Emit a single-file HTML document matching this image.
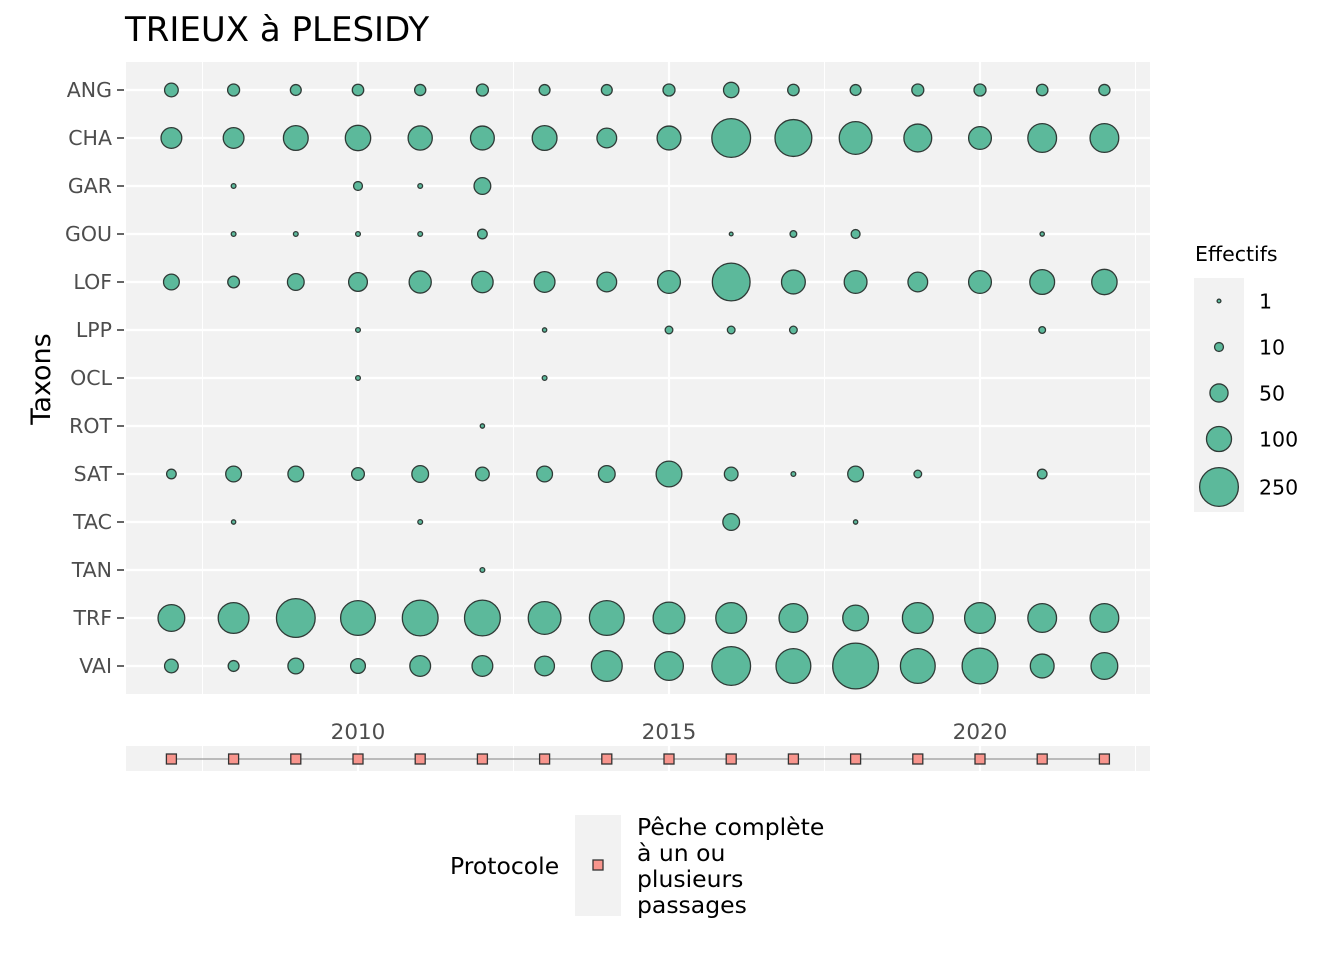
<!DOCTYPE html>
<html><head><meta charset="utf-8"><style>
body{margin:0;background:#fff;font-family:"Liberation Sans","DejaVu Sans",sans-serif}
svg text{font-family:"DejaVu Sans","Liberation Sans",sans-serif}
</style></head><body>
<svg id="c" width="1344" height="960" xmlns="http://www.w3.org/2000/svg">
<text x="125" y="41" font-size="34" fill="#000">TRIEUX à PLESIDY</text>
<text transform="translate(50,379) rotate(-90)" text-anchor="middle" font-size="27" fill="#000">Taxons</text>
<rect x="126" y="62" width="1024" height="632" fill="#f2f2f2"/>
<rect x="126" y="746" width="1024" height="25" fill="#f2f2f2"/>
<g id="grid"></g><g id="marks"></g><g id="axes"></g>
<text x="1195" y="261" font-size="20.5" fill="#000">Effectifs</text>
<rect x="1194" y="278" width="50" height="234" fill="#f2f2f2"/>
<g id="leg"></g>
<text x="450" y="874" font-size="23.5" fill="#000">Protocole</text>
<rect x="575" y="815" width="46" height="101" fill="#f2f2f2"/>
<rect x="593" y="860" width="10" height="10" fill="#f8958d" stroke="#333" stroke-width="1.3"/>
<g font-size="23.5" fill="#000">
<text x="637" y="835">Pêche complète</text><text x="637" y="861">à un ou</text><text x="637" y="887">plusieurs</text><text x="637" y="913">passages</text></g>
</svg>
<script>
const years=[2007,2008,2009,2010,2011,2012,2013,2014,2015,2016,2017,2018,2019,2020,2021,2022];
const taxa=["ANG","CHA","GAR","GOU","LOF","LPP","OCL","ROT","SAT","TAC","TAN","TRF","VAI"];
const ANG=[27,20,16,18,17,20,16,16,20,35,18,16,20,20,18,17];
const CHA=[67,67,98,103,93,90,98,60,90,250,225,176,125,82,134,134];
const GAR=[null,2,null,10,2,42,null,null,null,null,null,null,null,null,null,null];
const GOU=[null,2,2,2,2,12,null,null,null,1,5,10,null,null,1.5,null];
const LOF=[37,19,42,54,77,72,67,60,82,237,90,82,60,82,98,103];
const LPP=[null,null,null,2,null,null,1.5,null,7,7,7,null,null,null,5,null];
const OCL=[null,null,null,2,null,null,2,null,null,null,null,null,null,null,null,null];
const ROT=[null,null,null,null,null,1.5,null,null,null,null,null,null,null,null,null,null];
const SAT=[12,37,37,23,42,27,37,42,106,27,2,37,7,null,12,null];
const TAC=[null,1.5,null,null,2,null,null,null,null,42,null,1.5,null,null,null,null];
const TAN=[null,null,null,null,null,2,null,null,null,null,null,null,null,null,null,null];
const TRF=[115,155,250,200,212,212,176,200,165,155,134,106,155,155,134,134];
const VAI=[27,16,37,32,67,67,60,155,134,250,200,353,200,212,90,115];
const seriesByTaxon=[ANG,CHA,GAR,GOU,LOF,LPP,OCL,ROT,SAT,TAC,TAN,TRF,VAI];
const legendValues=[1,10,50,100,250];
const xTicks=[2010,2015,2020];
const minorX=[2007.5,2012.5,2017.5,2022.5];

const NS="http://www.w3.org/2000/svg";
const x=v=>171.4+(v-2007)*62.2;
const y=i=>90+i*48;
const r=v=>1.32+1.18*Math.sqrt(v);
function mk(tag,attrs,parent){const e=document.createElementNS(NS,tag);for(const k in attrs)e.setAttribute(k,attrs[k]);document.getElementById(parent).appendChild(e);return e;}

minorX.forEach(v=>{
 let l=mk('line',{x1:x(v),x2:x(v),y1:62,y2:694,stroke:'#fff','stroke-width':1},'grid');
 
 
 let l2=mk('line',{x1:x(v),x2:x(v),y1:746,y2:771,stroke:'#fff','stroke-width':1},'grid');
 
 
});
xTicks.forEach(v=>{
 let l=mk('line',{x1:x(v),x2:x(v),y1:62,y2:694,stroke:'#fff','stroke-width':2.2},'grid');
 
 
 let l2=mk('line',{x1:x(v),x2:x(v),y1:746,y2:771,stroke:'#fff','stroke-width':2.2},'grid');
 
 
 let t=mk('text',{x:x(v),y:739,'text-anchor':'middle','font-size':21.5,fill:'#4d4d4d'},'axes');
 t.textContent=v;
 
 
});
taxa.forEach((t,i)=>{
 let l=mk('line',{x1:126,x2:1150,y1:y(i),y2:y(i),stroke:'#fff','stroke-width':2.2},'grid');
 
 
 let tk=mk('line',{x1:117,x2:124,y1:y(i),y2:y(i),stroke:'#333','stroke-width':1.5},'axes');
 
 
 let tx=mk('text',{x:112,y:y(i)+7,'text-anchor':'end','font-size':20.5,fill:'#4d4d4d'},'axes');
 tx.textContent=t;
 
 
 seriesByTaxon[i].forEach((v,j)=>{
  if(v==null)return;
  let c=mk('circle',{cx:x(years[j]),cy:y(i),r:r(v)-0.6,fill:'#5cb99b',stroke:'#2f3a36','stroke-width':1.3},'marks');
  
  
 });
});
let pl=mk('line',{x1:x(years[0]),x2:x(years[years.length-1]),y1:759,y2:759,stroke:'#999','stroke-width':1.2},'marks');


years.forEach(v=>{
 let s=mk('rect',{x:x(v)-5,y:754,width:10,height:10,fill:'#f8958d',stroke:'#333','stroke-width':1.3},'marks');
 
 
});
const legY=[301,347,393,439,487];
legendValues.forEach((v,i)=>{
 let c=mk('circle',{cx:1219,cy:legY[i],r:r(v)-0.6,fill:'#5cb99b',stroke:'#2f3a36','stroke-width':1.3},'leg');
 
 
 let t=mk('text',{x:1259,y:legY[i]+7.5,'font-size':20.5,fill:'#000'},'leg');
 t.textContent=v;
 
 
});
</script>
</body></html>
